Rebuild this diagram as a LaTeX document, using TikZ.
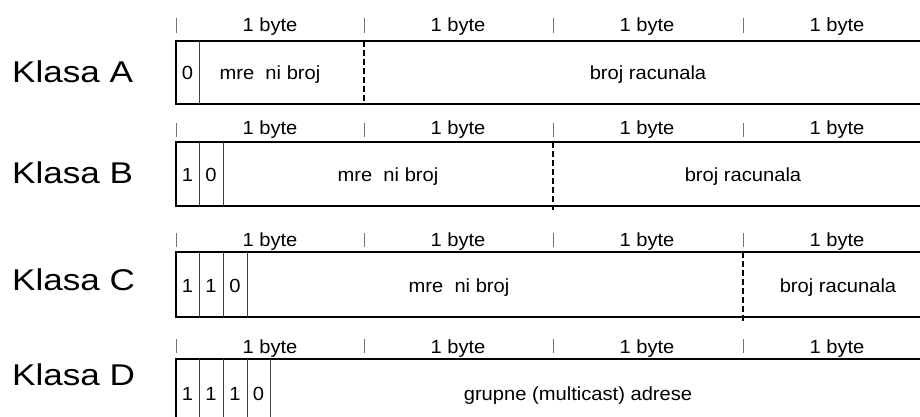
\documentclass[tikz,border=0pt]{standalone}
\usepackage{fontspec}
\setmainfont{Liberation Sans}
\newfontfamily\fieldfont[FakeStretch=1.06]{Liberation Sans}
\newfontfamily\classfont[FakeStretch=1.17]{Liberation Sans}
\begin{document}
\begin{tikzpicture}[x=1pt,y=-1pt,
  frame/.style={line width=2pt},
  bitsep/.style={line width=0.9pt,draw=black!75},
  bytetick/.style={line width=0.8pt,draw=black!55},
  netsplit/.style={line width=2pt,dash pattern=on 6pt off 3pt},
  bytelbl/.style={inner sep=0pt,anchor=base,font=\fieldfont\fontsize{19}{19}\selectfont},
  fieldlbl/.style={inner sep=0pt,anchor=base,font=\fieldfont\fontsize{19}{19}\selectfont},
  classlbl/.style={inner sep=0pt,anchor=base west,font=\classfont\fontsize{30}{30}\selectfont}]
\useasboundingbox (0,0) rectangle (920,417);
\clip (0,0) rectangle (920,417);

% byte rulers above each address layout: row/tick top/tick bottom/label baseline
\foreach \r/\ta/\tb/\lb in {A/18/33/32, B/123/137/135, C/233/247/246, D/339/353/353}{
  \foreach \i/\x in {1/176,2/364,3/553,4/743}{
    \coordinate (t\r\i a) at (\x,\ta);
    \coordinate (t\r\i b) at (\x,\tb);
    \draw[bytetick] (t\r\i a) -- (t\r\i b);
    \node[bytelbl] (b\r\i) at (\x+94,\lb) {1 byte};
  }
}

% Klasa A
\node[classlbl] (kA) at (12,83) {Klasa A};
\coordinate (A1) at (932,41); \coordinate (A2) at (176,41);
\coordinate (A3) at (176,104); \coordinate (A4) at (932,104);
\draw[frame] (A1) -- (A2) -- (A3) -- (A4);
\coordinate (sA1t) at (199,41); \coordinate (sA1b) at (199,104);
\draw[bitsep] (sA1t) -- (sA1b);
\coordinate (dAt) at (364,41); \coordinate (dAb) at (364,104);
\draw[netsplit] (dAt) -- (dAb);
\node[fieldlbl] (bitA1) at (187.5,80) {0};
\node[fieldlbl] (netA) at (270,80) {mre~~ni broj};
\node[fieldlbl] (hostA) at (648,80) {broj racunala};

% Klasa B
\node[classlbl] (kB) at (12,183) {Klasa B};
\coordinate (B1) at (932,142); \coordinate (B2) at (176,142);
\coordinate (B3) at (176,206); \coordinate (B4) at (932,206);
\draw[frame] (B1) -- (B2) -- (B3) -- (B4);
\foreach \x in {199,223}{
  \coordinate (sBt\x) at (\x,142); \coordinate (sBb\x) at (\x,206);
  \draw[bitsep] (sBt\x) -- (sBb\x);
}
\coordinate (dBt) at (553,142); \coordinate (dBb) at (553,210);
\draw[netsplit] (dBt) -- (dBb);
\node[fieldlbl] (bitB1) at (187.5,181) {1};
\node[fieldlbl] (bitB2) at (211,181) {0};
\node[fieldlbl] (netB) at (388,181) {mre~~ni broj};
\node[fieldlbl] (hostB) at (743,181) {broj racunala};

% Klasa C
\node[classlbl] (kC) at (12,290) {Klasa C};
\coordinate (C1) at (932,252); \coordinate (C2) at (176,252);
\coordinate (C3) at (176,317); \coordinate (C4) at (932,317);
\draw[frame] (C1) -- (C2) -- (C3) -- (C4);
\foreach \x in {199,223,247}{
  \coordinate (sCt\x) at (\x,252); \coordinate (sCb\x) at (\x,317);
  \draw[bitsep] (sCt\x) -- (sCb\x);
}
\coordinate (dCt) at (743,252); \coordinate (dCb) at (743,321);
\draw[netsplit] (dCt) -- (dCb);
\node[fieldlbl] (bitC1) at (187.5,292) {1};
\node[fieldlbl] (bitC2) at (211,292) {1};
\node[fieldlbl] (bitC3) at (235,292) {0};
\node[fieldlbl] (netC) at (459,292) {mre~~ni broj};
\node[fieldlbl] (hostC) at (838,292) {broj racunala};

% Klasa D
\node[classlbl] (kD) at (12,385) {Klasa D};
\coordinate (D1) at (932,359); \coordinate (D2) at (176,359);
\coordinate (D3) at (176,430);
\draw[frame] (D1) -- (D2) -- (D3);
\foreach \x in {199,223,247,270}{
  \coordinate (sDt\x) at (\x,359); \coordinate (sDb\x) at (\x,430);
  \draw[bitsep] (sDt\x) -- (sDb\x);
}
\node[fieldlbl] (bitD1) at (187.5,400) {1};
\node[fieldlbl] (bitD2) at (211,400) {1};
\node[fieldlbl] (bitD3) at (235,400) {1};
\node[fieldlbl] (bitD4) at (258.5,400) {0};
\node[fieldlbl] (grpD) at (578,400) {grupne (multicast) adrese};
\end{tikzpicture}
\end{document}
